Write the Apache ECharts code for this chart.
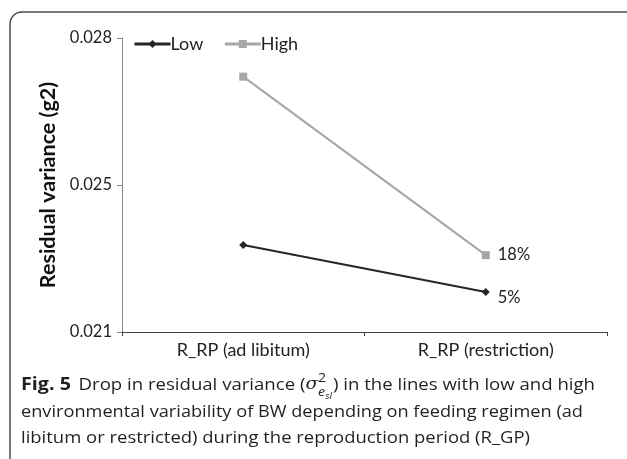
<!DOCTYPE html>
<html>
<head>
<meta charset="utf-8">
<script src="https://cdn.jsdelivr.net/npm/echarts@6/dist/echarts.min.js"></script>
<style>
  html, body { margin: 0; padding: 0; background: #fff; }
  #chart { width: 627px; height: 459px; }
</style>
</head>
<body>
<div id="chart"></div>
<script>
// data
const categories = ['R_RP (ad libitum)', 'R_RP (restriction)']
const lowValues = [0.02307, 0.02195]
const highValues = [0.02708, 0.02283]
const seriesNames = ['Low', 'High']
const dropLabels = ['5%', '18%']
const yTickLabels = ['0.021', '0.025', '0.028']

const chart = echarts.init(document.getElementById('chart'))

const axisFont = 'Lato, "Open Sans", sans-serif'
const capFont = '"Open Sans", "Noto Sans", sans-serif'

// mark only the last point with its drop percentage
const withLabel = (values, label, offsetY) => values.map((v, i) => (
  i === values.length - 1
    ? { value: v, label: { show: true, formatter: label, position: 'right', distance: 8, offset: [0, offsetY] } }
    : v
))

// caption: each line is a group of text pieces, squeezed to the width seen in the figure
const ctx = document.createElement('canvas').getContext('2d')
const measure = (text, font) => { ctx.font = font; return ctx.measureText(text).width }
const capSize = 17
const capColor = '#231f20'

const captionLine = (pieces, y, endX) => {
  let cx = 0
  const children = []
  pieces.forEach(p => {
    if (p.back) cx = p.back
    const font = `${p.style || 'normal'} ${p.weight || 'normal'} ${p.size || capSize}px ${p.family || capFont}`
    children.push({
      type: 'text', x: cx, y: p.dy || 0,
      style: { text: p.text, font, fill: capColor, textVerticalAlign: 'middle' }
    })
    cx += measure(p.text, font) + (p.gap || 0)
  })
  return { type: 'group', x: 21, y, scaleX: (endX - 21) / cx, children }
}

const line1 = [
  { text: 'Fig. 5', weight: 'bold', size: 18, gap: 7 },
  { text: 'Drop in residual variance (' },
  { text: 'σ', style: 'italic', family: 'Georgia, "DejaVu Serif", serif' },
  { text: '2', size: 13, dy: -7 }
]
// subscript sits under the superscript
const subX = captionLine(line1, 385, 0).children[3].x
const caption = [
  captionLine([
    ...line1,
    { text: 'e', size: 13, style: 'italic', dy: 7, back: subX },
    { text: 'sl', size: 9, style: 'italic', dy: 11, gap: 1 },
    { text: ') in the lines with low and high' }
  ], 385, 595),
  captionLine([{ text: 'environmental variability of BW depending on feeding regimen (ad' }], 412, 583),
  captionLine([{ text: 'libitum or restricted) during the reproduction period (R_GP)' }], 438, 530)
]

chart.setOption({
  backgroundColor: '#fff',
  textStyle: { fontFamily: axisFont },
  grid: { left: 122, right: 20, top: 38, bottom: 127 },
  legend: {
    data: seriesNames,
    left: 133,
    top: 35,
    padding: 0,
    itemWidth: 36,
    itemHeight: 10,
    itemGap: 20,
    lineStyle: { width: 3 },
    textStyle: { fontSize: 18, color: '#222', fontFamily: axisFont, padding: [0, 0, 0, -5] }
  },
  xAxis: {
    type: 'category',
    data: categories,
    boundaryGap: true,
    axisLine: { lineStyle: { color: '#404040', width: 1 } },
    axisTick: { show: true, length: 4, lineStyle: { color: '#404040' } },
    axisLabel: { fontSize: 18, color: '#222', margin: 9, fontFamily: axisFont }
  },
  yAxis: {
    type: 'value',
    min: 0.021,
    max: 0.028,
    interval: 0.0035,
    name: 'Residual variance (g2)',
    nameLocation: 'middle',
    nameGap: 62,
    nameRotate: 90,
    nameTextStyle: { fontSize: 21.5, fontWeight: 'bold', color: '#111', fontFamily: axisFont },
    axisLine: { show: true, lineStyle: { color: '#868686', width: 1 } },
    axisTick: { show: true, length: 5, lineStyle: { color: '#868686' } },
    splitLine: { show: false },
    axisLabel: {
      fontSize: 16.5, color: '#222', margin: 10, fontFamily: axisFont,
      formatter: (v, i) => yTickLabels[i]
    }
  },
  series: [
    {
      name: seriesNames[0],
      type: 'line',
      data: withLabel(lowValues, dropLabels[0], 6),
      symbol: 'diamond',
      symbolSize: 8,
      itemStyle: { color: '#262626' },
      lineStyle: { color: '#262626', width: 2 },
      label: { fontSize: 16.5, color: '#222', fontFamily: axisFont },
      emphasis: { disabled: true },
      animation: false
    },
    {
      name: seriesNames[1],
      type: 'line',
      data: withLabel(highValues, dropLabels[1], 0),
      symbol: 'rect',
      symbolSize: 8,
      itemStyle: { color: '#a6a6a6' },
      lineStyle: { color: '#a6a6a6', width: 2 },
      label: { fontSize: 16.5, color: '#222', fontFamily: axisFont },
      emphasis: { disabled: true },
      animation: false
    }
  ],
  graphic: [
    {
      type: 'rect',
      shape: { x: 10, y: 12, width: 700, height: 600, r: 12 },
      style: { fill: 'none', stroke: '#4d4d4d', lineWidth: 1.5 }
    },
    ...caption
  ]
})
</script>
</body>
</html>
